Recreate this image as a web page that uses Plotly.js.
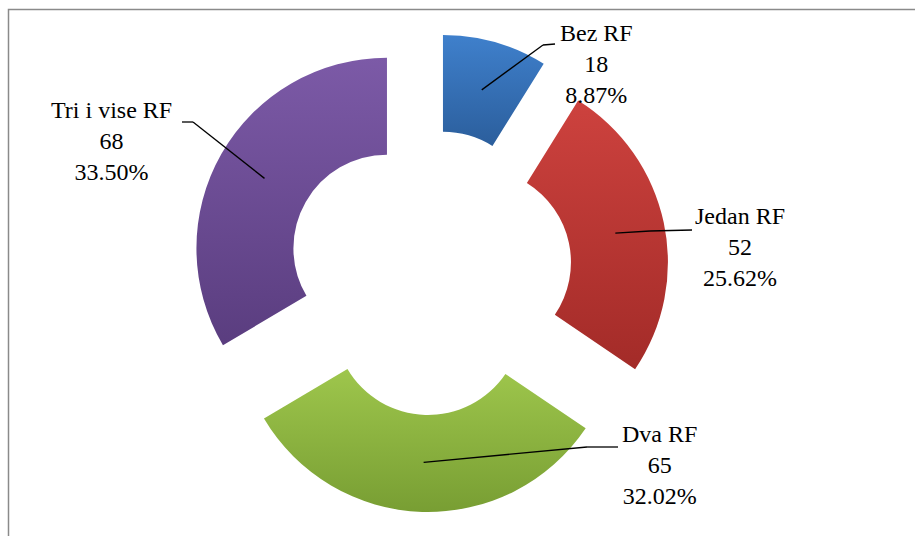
<!DOCTYPE html>
<html>
<head>
<meta charset="utf-8">
<script src="https://cdn.plot.ly/plotly-3.0.1.min.js"></script>
<style>html,body{margin:0;padding:0;background:#fff;}#chart{width:915px;height:536px;}</style>
</head>
<body>
<div id="chart"></div>
<script>
// ---- data ----
const labels = ['Bez RF', 'Jedan RF', 'Dva RF', 'Tri i vise RF'];
const values = [18, 52, 65, 68];
const colors = ['#3470bb', '#bb3935', '#8cb541', '#6c4c95'];
const gradTop = ['#3f80cc', '#cd423e', '#9ec64c', '#7c5aa7'];
const gradBot = ['#2b5e9c', '#a32b28', '#789e33', '#5a3d7f'];

// ---- layout geometry (pixels) ----
const W = 915, H = 536;
const CX = 429.5, CY = 272.5;
const PULL = 0.257, HOLE = 0.491;
const BOX = 239.5; // half size of pie box
const R = BOX / (1 + PULL);
// label centres and leader-line elbows (label placement)
const labelPos = [[596, 64], [740, 247], [659, 465], [111, 141]];
const elbows = [
  [[543, 45], [555, 44]],
  [[650, 231], [692, 230]],
  [[587, 447], [618, 447]],
  [[193, 122], [182, 122]]
];

const px = x => x / W;
const py = y => 1 - y / H;

const total = values.reduce((a, b) => a + b, 0);
const shapes = [];
const annotations = [];

// border of the chart area
shapes.push({type: 'rect', xref: 'paper', yref: 'paper', x0: px(8.5), y0: py(9.5), x1: px(W + 20), y1: py(H + 20),
  line: {color: '#8a8a8a', width: 1.5}, fillcolor: 'rgba(0,0,0,0)', layer: 'below'});

let cum = 0;
values.forEach((v, i) => {
  const mid = (cum + v / 2) / total * 2 * Math.PI;
  cum += v;
  const dx = Math.sin(mid), dy = -Math.cos(mid);
  const sx = CX + dx * R * PULL + dx * R * 0.74;
  const sy = CY + dy * R * PULL + dy * R * 0.74;
  const pts = [[sx, sy]].concat(elbows[i]);
  for (let k = 0; k < pts.length - 1; k++) {
    shapes.push({type: 'line', xref: 'paper', yref: 'paper',
      x0: px(pts[k][0]), y0: py(pts[k][1]), x1: px(pts[k + 1][0]), y1: py(pts[k + 1][1]),
      line: {color: '#000', width: 1.3}});
  }
  annotations.push({xref: 'paper', yref: 'paper', x: px(labelPos[i][0]), y: py(labelPos[i][1]),
    xanchor: 'center', yanchor: 'middle', align: 'center', showarrow: false,
    text: labels[i] + '<br>' + v + '<br>' + (v / total * 100).toFixed(2) + '%',
    font: {family: 'Liberation Serif, Times New Roman, serif', size: 24, color: '#000'}});
});

const trace = {
  type: 'pie',
  labels: labels,
  values: values,
  sort: false,
  direction: 'clockwise',
  rotation: 0,
  hole: HOLE,
  pull: values.map(() => PULL),
  marker: {colors: colors, line: {width: 0}},
  textinfo: 'none',
  hoverinfo: 'none',
  showlegend: false,
  domain: {x: [px(CX - BOX), px(CX + BOX)], y: [py(CY + BOX), py(CY - BOX)]}
};

const layout = {
  width: W, height: H,
  margin: {l: 0, r: 0, t: 0, b: 0},
  paper_bgcolor: '#fff',
  showlegend: false,
  shapes: shapes,
  annotations: annotations
};

Plotly.newPlot('chart', [trace], layout, {displayModeBar: false, staticPlot: true}).then(() => {
  try {
    const svg = document.querySelector('#chart .main-svg');
    const ns = 'http://www.w3.org/2000/svg';
    let defs = svg.querySelector('defs');
    if (!defs) { defs = document.createElementNS(ns, 'defs'); svg.insertBefore(defs, svg.firstChild); }
    gradTop.forEach((c, i) => {
      const g = document.createElementNS(ns, 'linearGradient');
      g.setAttribute('id', 'sg' + i);
      g.setAttribute('x1', '0'); g.setAttribute('y1', '0');
      g.setAttribute('x2', '0'); g.setAttribute('y2', '1');
      const s1 = document.createElementNS(ns, 'stop');
      s1.setAttribute('offset', '0'); s1.setAttribute('stop-color', c);
      const s2 = document.createElementNS(ns, 'stop');
      s2.setAttribute('offset', '1'); s2.setAttribute('stop-color', gradBot[i]);
      g.appendChild(s1); g.appendChild(s2); defs.appendChild(g);
    });
    const paths = document.querySelectorAll('#chart .slice path.surface');
    paths.forEach((p, i) => { p.style.fill = 'url(#sg' + i + ')'; });
  } catch (e) {}
});
</script>
</body>
</html>
